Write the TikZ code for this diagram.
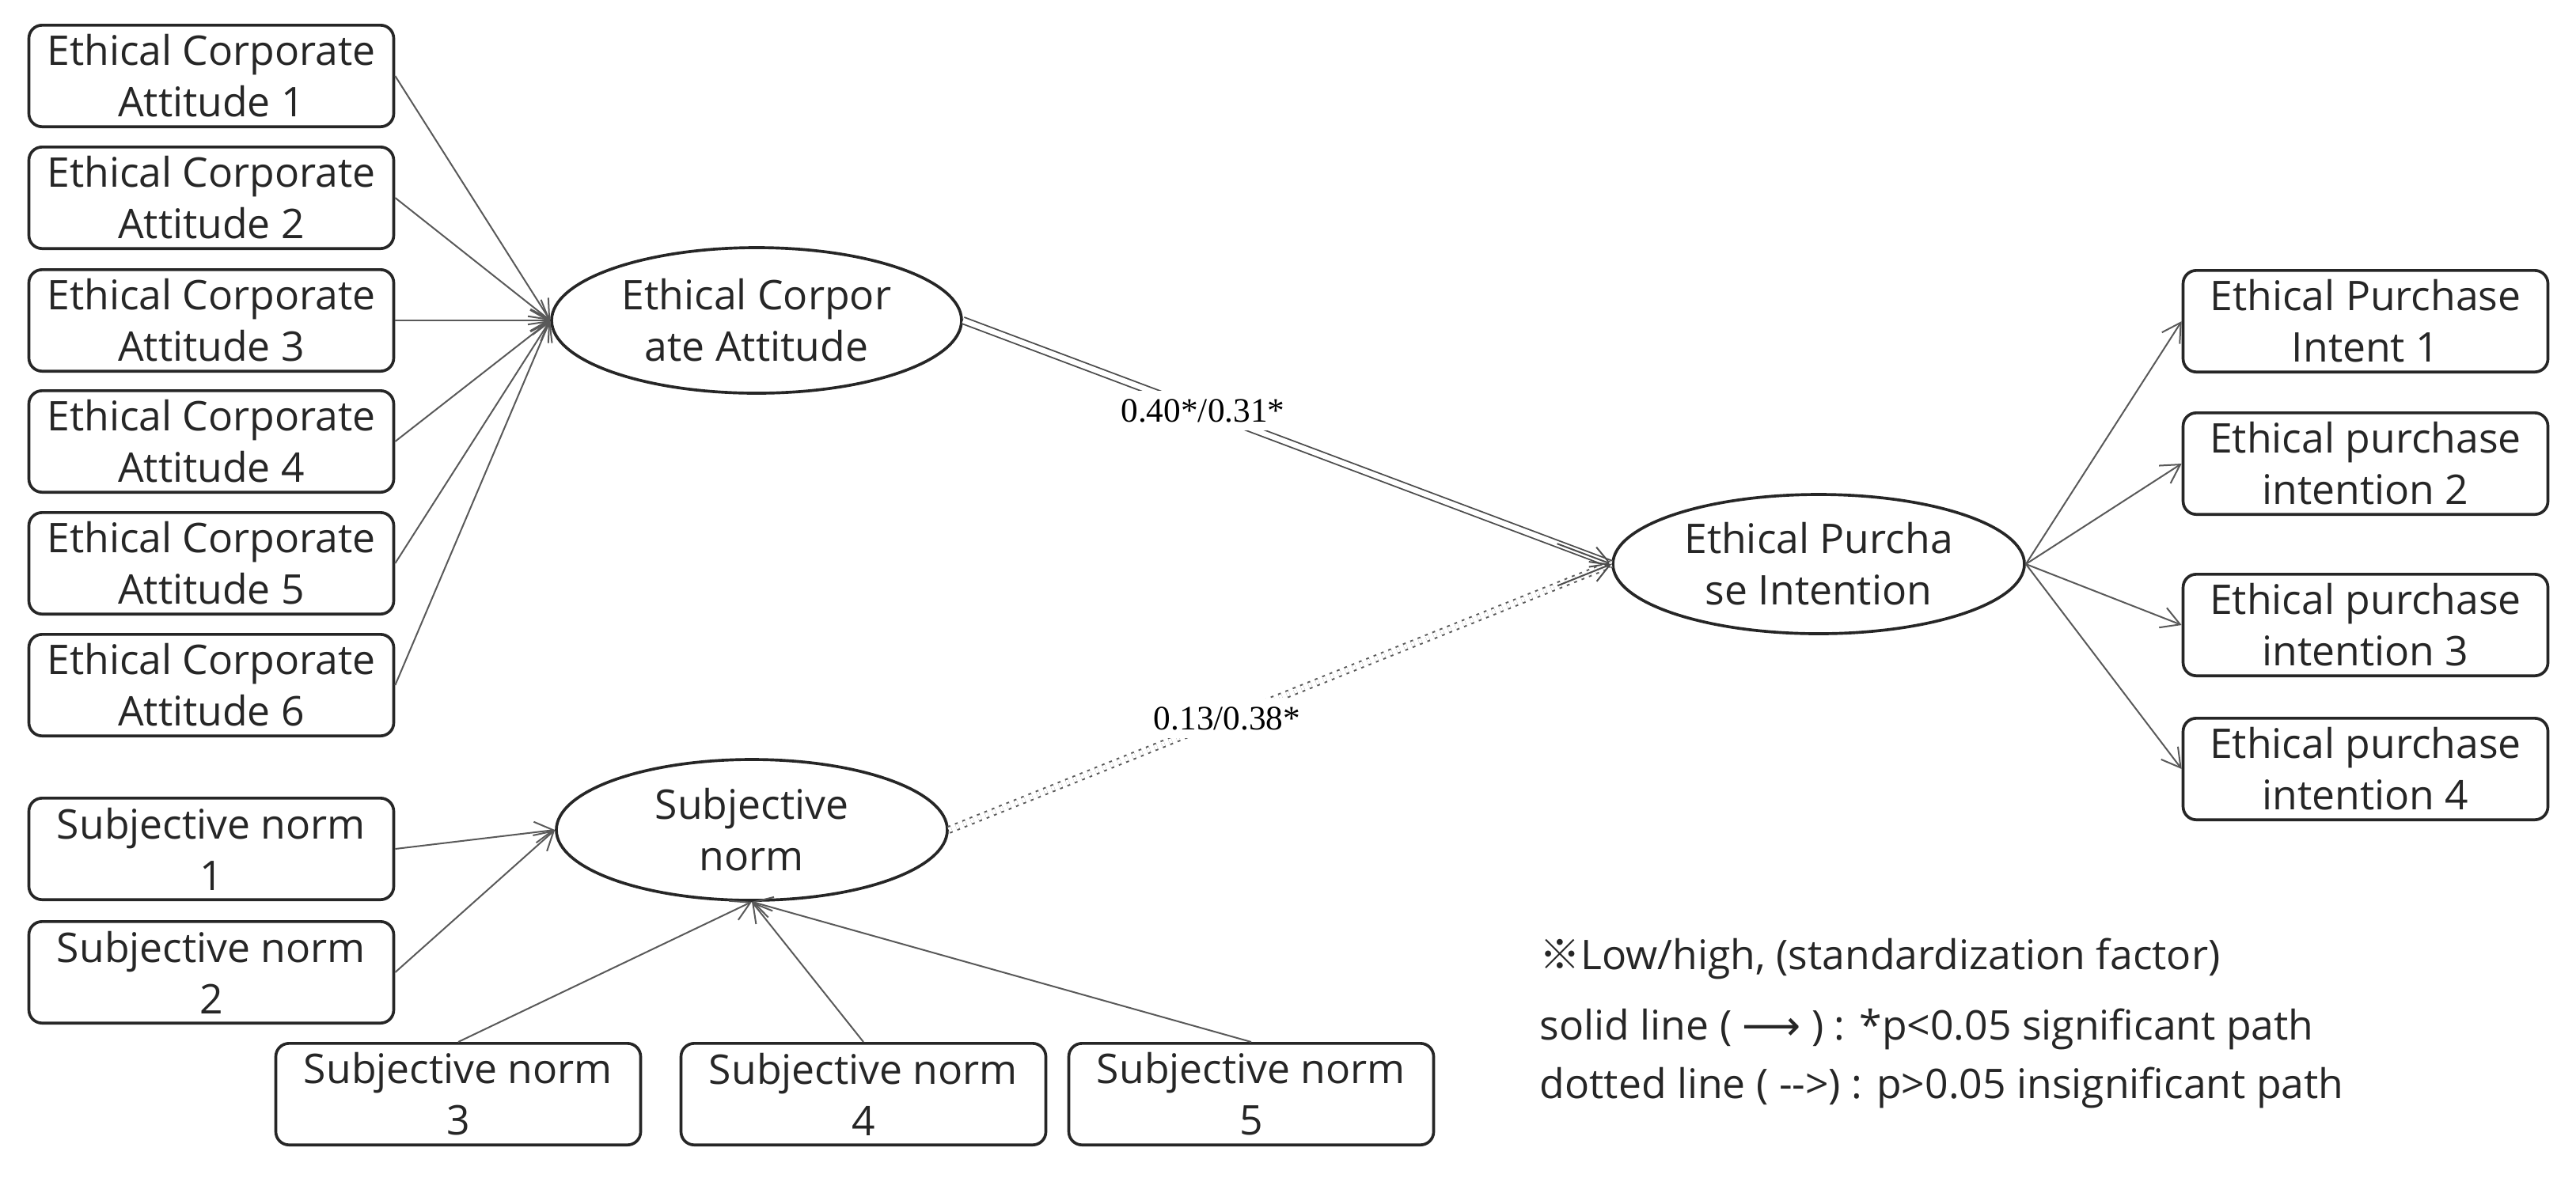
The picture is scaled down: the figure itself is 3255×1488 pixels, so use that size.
\documentclass[tikz,border=0pt]{standalone}
\usepackage{fontspec}
\setmainfont{Open Sans}
\newfontfamily\djv{DejaVu Sans}
\newfontfamily\cjk{Noto Sans CJK KR}
\newfontfamily\lbfont{Liberation Serif}
\usetikzlibrary{shapes.geometric,arrows.meta,calc}
\begin{document}
\begin{tikzpicture}[x=0.3pt,y=-0.3pt,
  txt/.style={font=\fontsize{15.5}{19.5}\selectfont, text=black!85},
  box/.style={txt, draw=black!85, line width=1.1pt, rounded corners=5pt,
    minimum width=138.3pt, minimum height=38.5pt, align=center, inner sep=0pt},
  lat/.style={txt, ellipse, draw=black!85, line width=1.1pt, align=center, inner sep=0pt},
  conn/.style={draw=black!65, line width=0.6pt, -{Straight Barb[length=7pt,width=8pt]}},
  tip/.style={draw=black!70, line width=0.6pt, -{Straight Barb[length=7pt,width=8pt]}},
  dbl/.style={draw=black!70, line width=0.55pt, double=white, double distance=2pt},
  dotdbl/.style={draw=black!65, line width=0.6pt, double=white, double distance=1.8pt,
    dash pattern=on 1.1pt off 1.9pt},
  lbl/.style={fill=white, inner sep=3pt, text=black, font=\lbfont\fontsize{13}{15}\selectfont},
  legend/.style={txt, anchor=base west, inner sep=0pt}
]
\useasboundingbox (0,0) rectangle (3255,1488);

% left indicator boxes
\node[box] (eca1) at (267,96)  {Ethical Corporate\\Attitude 1};
\node[box] (eca2) at (267,250) {Ethical Corporate\\Attitude 2};
\node[box] (eca3) at (267,405) {Ethical Corporate\\Attitude 3};
\node[box] (eca4) at (267,558) {Ethical Corporate\\Attitude 4};
\node[box] (eca5) at (267,712) {Ethical Corporate\\Attitude 5};
\node[box] (eca6) at (267,866) {Ethical Corporate\\Attitude 6};

\node[box] (sn1) at (267,1073) {Subjective norm\\1};
\node[box] (sn2) at (267,1229) {Subjective norm\\2};
\node[box] (sn3) at (579,1383) {Subjective norm\\3};
\node[box] (sn4) at (1091,1383) {Subjective norm\\4};
\node[box] (sn5) at (1581,1383) {Subjective norm\\5};

% right indicator boxes
\node[box] (epi1) at (2989,406) {Ethical Purchase\\Intent 1};
\node[box] (epi2) at (2989,586) {Ethical purchase\\intention 2};
\node[box] (epi3) at (2989,790) {Ethical purchase\\intention 3};
\node[box] (epi4) at (2989,972) {Ethical purchase\\intention 4};

% latent variables
\node[lat, minimum width=155.4pt, minimum height=55.2pt] (ECA) at (956,405) {Ethical Corpor\\ate Attitude};
\node[lat, minimum width=148.2pt, minimum height=53.4pt] (SN) at (950,1049) {Subjective\\norm};
\node[lat, minimum width=156pt, minimum height=52.8pt] (EPI) at (2298,713) {Ethical Purcha\\se Intention};

% measurement arrows
\foreach \i in {1,...,6} \draw[conn] (eca\i.east) -- (ECA.west);
\draw[conn] (sn1.east) -- (SN.west);
\draw[conn] (sn2.east) -- (SN.west);
\foreach \i in {3,4,5} \draw[conn] (sn\i.north) -- (SN.south);
\foreach \i in {1,...,4} \draw[conn] (EPI.east) -- (epi\i.west);

% structural paths
\draw[dbl] (ECA.east) -- node[lbl, pos=0.37] (l040) {0.40*/0.31*} (EPI.west);
\draw[tip] ($(EPI.west)!22pt!(ECA.east)$) -- (EPI.west);
\draw[dotdbl] (SN.east) -- node[lbl, pos=0.42] (l013) {0.13/0.38*} (EPI.west);
\draw[tip] ($(EPI.west)!22pt!(SN.east)$) -- (EPI.west);

% legend
\node[legend] (leg1) at (1945,1225) {{\cjk ※}Low/high, (standardization factor)};
\node[legend] (leg2) at (1945,1314) {solid line ( {\djv ⟶} ) : *p<0.05 significant path};
\node[legend] (leg3) at (1945,1388) {dotted line ( -{}-{}>) : p>0.05 insignificant path};
\end{tikzpicture}
\end{document}
